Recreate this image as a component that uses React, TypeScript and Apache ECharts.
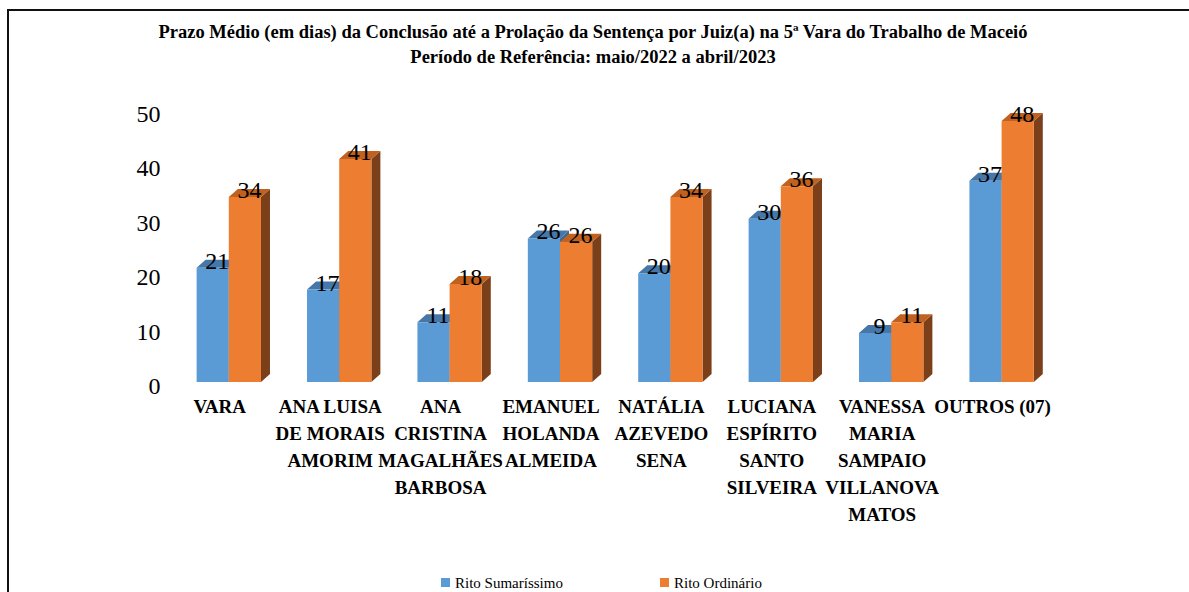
import React, { useEffect, useRef } from "react";
import * as echarts from "echarts";

const categories = [
  "VARA",
  "ANA LUISA\nDE MORAIS\nAMORIM",
  "ANA\nCRISTINA\nMAGALHÃES\nBARBOSA",
  "EMANUEL\nHOLANDA\nALMEIDA",
  "NATÁLIA\nAZEVEDO\nSENA",
  "LUCIANA\nESPÍRITO\nSANTO\nSILVEIRA",
  "VANESSA\nMARIA\nSAMPAIO\nVILLANOVA\nMATOS",
  "OUTROS (07)",
];
const sumarissimo = [21, 17, 11, 26.4, 20, 30, 9, 37];
const ordinario = [34, 41, 18, 25.8, 34, 36, 11, 48];
const seriesNames = ["Rito Sumaríssimo", "Rito Ordinário"];
const titleLines = [
  "Prazo Médio (em dias) da Conclusão até a Prolação da Sentença por Juiz(a) na 5ª Vara do Trabalho de Maceió",
  "Período de Referência: maio/2022 a abril/2023",
];

const FONT = "Liberation Serif";

const blue = { front: "#5B9BD5", top: "#4677A8", side: "#3C6895" };
const orange = { front: "#ED7D31", top: "#C0611F", side: "#7B3F1A" };

const makeRender = (isLeft: boolean, colors: any) => (params: any, api: any) => {
  const v = api.value(1) as number;
  const c = api.coord([api.value(0), v]);
  const b = api.coord([api.value(0), 0]);
  const band = api.size([1, 0])[0];
  const w = band * 0.2915;
  const x0 = isLeft ? c[0] - w : c[0];
  const x1 = x0 + w;
  const yt = c[1];
  const yb = b[1];
  const dx = 9;
  const dy = 8;
  return {
    type: "group",
    children: [
      {
        type: "polygon",
        shape: { points: [[x1, yb], [x1 + dx, yb - dy], [x1 + dx, yt - dy], [x1, yt]] },
        style: { fill: colors.side },
      },
      {
        type: "polygon",
        shape: { points: [[x0, yt], [x1, yt], [x1 + dx, yt - dy], [x0 + dx, yt - dy]] },
        style: { fill: colors.top },
      },
      {
        type: "rect",
        shape: { x: x0, y: yt, width: w, height: yb - yt },
        style: { fill: colors.front },
      },
      {
        type: "text",
        x: x0 + w / 2 + dx / 2,
        y: yt - 7,
        z2: 10,
        style: {
          text: String(Math.round(v)),
          fontFamily: FONT,
          fontSize: 24,
          fill: "#000",
          align: "center",
          verticalAlign: "middle",
        },
      },
    ],
  };
};

export default function App() {
  const ref = useRef<HTMLDivElement>(null);
  useEffect(() => {
    if (!ref.current) return;
    const chart = echarts.init(ref.current, undefined, { renderer: "svg" });
    chart.setOption({
      animation: false,
      backgroundColor: "#fff",
      textStyle: { fontFamily: FONT },
      title: {
        text: titleLines.join("\n"),
        left: 588,
        textAlign: "center",
        top: 14,
        textStyle: {
          fontFamily: FONT,
          fontWeight: "bold",
          fontSize: 18.5,
          lineHeight: 25,
          color: "#000",
        },
      },
      graphic: [
        {
          type: "rect",
          silent: true,
          shape: { x: 8, y: 10, width: 1300, height: 700 },
          style: { fill: "none", stroke: "#111", lineWidth: 2 },
        },
      ],
      legend: [
        {
          data: [seriesNames[0]],
          left: 436,
          top: 570,
          icon: "rect",
          itemWidth: 9,
          itemHeight: 9,
          textStyle: { fontFamily: FONT, fontSize: 15, color: "#000" },
        },
        {
          data: [seriesNames[1]],
          left: 655,
          top: 570,
          icon: "rect",
          itemWidth: 9,
          itemHeight: 9,
          textStyle: { fontFamily: FONT, fontSize: 15, color: "#000" },
        },
      ],
      grid: { left: 173.6, right: 132.2, top: 110, bottom: 210, containLabel: false },
      xAxis: {
        type: "category",
        data: categories,
        axisLine: { show: false },
        axisTick: { show: false },
        axisLabel: {
          interval: 0,
          margin: 11,
          fontFamily: FONT,
          fontWeight: "bold",
          fontSize: 19,
          lineHeight: 27,
          color: "#000",
          padding: [0, 18, 0, 0],
        },
      },
      yAxis: {
        type: "value",
        min: 0,
        max: 50,
        interval: 10,
        axisLine: { show: false },
        axisTick: { show: false },
        splitLine: { show: false },
        axisLabel: {
          margin: 13,
          fontFamily: FONT,
          fontSize: 24,
          color: "#000",
          verticalAlign: "top",
          lineHeight: 8,
        },
      },
      series: [
        {
          type: "custom",
          name: seriesNames[0],
          itemStyle: { color: blue.front },
          renderItem: makeRender(true, blue),
          encode: { x: 0, y: 1 },
          data: sumarissimo.map((v, i) => [i, v]),
        },
        {
          type: "custom",
          name: seriesNames[1],
          itemStyle: { color: orange.front },
          renderItem: makeRender(false, orange),
          encode: { x: 0, y: 1 },
          data: ordinario.map((v, i) => [i, v]),
        },
      ],
    });
    return () => chart.dispose();
  }, []);
  return (
    <div
      ref={ref}
      style={{ position: "absolute", left: 0, top: 0, width: 1189, height: 592 }}
    />
  );
}
